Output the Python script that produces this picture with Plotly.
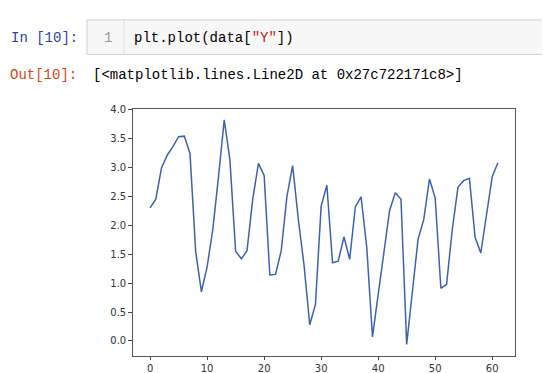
import plotly.graph_objects as go

# values of data["Y"]
y_vals = [2.30, 2.45, 2.99, 3.21, 3.36, 3.53, 3.54, 3.24, 1.54, 0.85,
          1.28, 1.93, 2.84, 3.82, 3.13, 1.55, 1.42, 1.56, 2.45, 3.07,
          2.86, 1.14, 1.15, 1.56, 2.50, 3.03, 2.10, 1.31, 0.28, 0.63,
          2.33, 2.69, 1.35, 1.38, 1.80, 1.41, 2.32, 2.49, 1.62, 0.07,
          0.80, 1.54, 2.25, 2.56, 2.45, -0.06, 0.91, 1.76, 2.10, 2.80,
          2.47, 0.91, 0.98, 1.93, 2.66, 2.77, 2.81, 1.79, 1.52, 2.16,
          2.84, 3.08]
x_vals = list(range(len(y_vals)))

x_ticks = [0, 10, 20, 30, 40, 50, 60]
y_ticks = [0.0, 0.5, 1.0, 1.5, 2.0, 2.5, 3.0, 3.5, 4.0]
y_tick_text = ['%.1f' % v for v in y_ticks]

W, H = 550, 373
px_x = lambda p: p / W
px_y = lambda p: 1 - p / H

mono = 'Liberation Mono, DejaVu Sans Mono, monospace'

fig = go.Figure()
fig.add_trace(go.Scatter(x=x_vals, y=y_vals, mode='lines',
                         line=dict(color='#3d62ad', width=1.5),
                         hoverinfo='skip'))

axis_common = dict(showgrid=False, zeroline=False, showline=True, mirror=True,
                   linecolor='#555555', linewidth=1, ticks='outside',
                   ticklen=3.5, tickwidth=1, tickcolor='#444444',
                   tickfont=dict(family='DejaVu Sans', size=10, color='#333333'))

fig.update_layout(
    width=W, height=H,
    margin=dict(l=0, r=0, t=0, b=0),
    paper_bgcolor='white', plot_bgcolor='white',
    showlegend=False,
    xaxis=dict(domain=[px_x(124.7), px_x(507.3)], range=[-3.05, 64.05],
               tickvals=x_ticks, **axis_common),
    yaxis=dict(domain=[px_y(347.3), px_y(97)], range=[-0.254, 4.014],
               tickvals=y_ticks, ticktext=y_tick_text, **axis_common),
)

# code cell box
fig.add_shape(type='rect', xref='paper', yref='paper',
              x0=px_x(79), x1=px_x(560), y0=px_y(42), y1=px_y(7),
              fillcolor='#f7f7f7', line=dict(color='#cfcfcf', width=1))
fig.add_shape(type='line', xref='paper', yref='paper',
              x0=px_x(116), x1=px_x(116), y0=px_y(41), y1=px_y(8),
              line=dict(color='#dddddd', width=1))

notes = [
    (72, 25, 'right', 'In [10]:', '#303F9F'),
    (106, 25, 'right', '1', '#999999'),
    (124, 25, 'left', 'plt.plot(data[<span style="color:#BA2121">"Y"</span>])', '#000000'),
    (71, 63, 'right', 'Out[10]:', '#D84315'),
    (83, 63, 'left', '[&lt;matplotlib.lines.Line2D at 0x27c722171c8&gt;]', '#000000'),
]
for x, y, anchor, txt, col in notes:
    fig.add_annotation(xref='paper', yref='paper', x=px_x(x), y=px_y(y),
                       xanchor=anchor, yanchor='middle', showarrow=False,
                       text=txt, font=dict(family=mono, size=14, color=col))

fig.write_html('out.html', config={'displayModeBar': False})
